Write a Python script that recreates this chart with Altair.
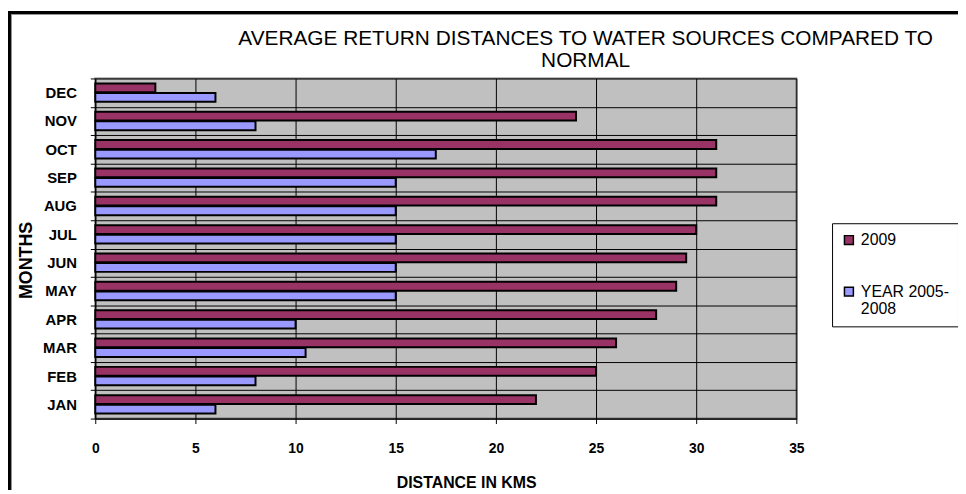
import altair as alt
import pandas as pd

months = ["JAN", "FEB", "MAR", "APR", "MAY", "JUN", "JUL", "AUG", "SEP", "OCT", "NOV", "DEC"]
km_2009 = [22, 25, 26, 28, 29, 29.5, 30, 31, 31, 31, 24, 3]
km_normal = [6, 8, 10.5, 10, 15, 15, 15, 15, 15, 17, 8, 6]
series = ["2009", "YEAR 2005-2008"]
colors = ["#993366", "#9999FF"]
x_ticks = [0, 5, 10, 15, 20, 25, 30, 35]

rows = []
for m, a, b in zip(months, km_2009, km_normal):
    rows.append({"month": m, "series": series[0], "km": a})
    rows.append({"month": m, "series": series[1], "km": b})
df = pd.DataFrame(rows)

FONT = "Liberation Sans"
W, H = 707, 343
PADL, PADT, PADR, PADB = 88, 69, 163, 72

bars = alt.Chart(df).mark_bar(stroke="black", strokeWidth=2).encode(
    x=alt.X(
        "km:Q",
        scale=alt.Scale(domain=[0, 35], nice=False),
        axis=alt.Axis(
            values=x_ticks, format="d", title="DISTANCE IN KMS",
            grid=True, gridColor="black", gridWidth=1, gridOpacity=1,
            domainColor="black", tickColor="black", tickSize=5,
            labelFont=FONT, labelFontSize=14, labelFontWeight="bold", labelColor="black",
            labelPadding=18, labelFlush=False,
            titleFont=FONT, titleFontSize=16, titleFontWeight="bold", titleColor="black",
            titleX=374, titleY=65, titleBaseline="middle", titleAlign="center",
        ),
    ),
    y=alt.Y(
        "month:N",
        sort=months[::-1],
        scale=alt.Scale(paddingInner=0, paddingOuter=0),
        axis=alt.Axis(
            title="MONTHS", tickBand="extent",
            grid=True, gridColor="black", gridWidth=1, gridOpacity=1,
            domainColor="black", tickColor="black", tickSize=5,
            labelFont=FONT, labelFontSize=15, labelFontWeight="bold", labelColor="black",
            labelPadding=14,
            titleFont=FONT, titleFontSize=18, titleFontWeight="bold", titleColor="black",
            titleAngle=270, titleX=-69, titleY=183, titleAlign="center", titleBaseline="middle",
        ),
    ),
    yOffset=alt.YOffset(
        "series:N", sort=series,
        scale=alt.Scale(paddingInner=0.08, paddingOuter=0.52),
    ),
    color=alt.Color(
        "series:N",
        scale=alt.Scale(domain=series, range=colors),
        legend=alt.Legend(
            title=None, orient="none", legendX=743, legendY=146, direction="vertical",
            fillColor="white", strokeColor="black", padding=9,
            symbolType="square", symbolSize=81, symbolStrokeColor="black", symbolStrokeWidth=1.5,
            labelFont=FONT, labelFontSize=16, labelColor="black", labelOffset=4,
            rowPadding=36,
            labelExpr="datum.label == 'YEAR 2005-2008' ? ['YEAR 2005-', '2008'] : datum.label",
        ),
    ),
)

one = alt.Data(values=[{}])
border_top = alt.Chart(one).mark_rule(color="black", strokeWidth=3).encode(
    x=alt.value(-PADL), x2=alt.value(W + PADR), y=alt.value(-PADT + 2.5)
)
border_left = alt.Chart(one).mark_rule(color="black", strokeWidth=3).encode(
    x=alt.value(-PADL + 1.5), y=alt.value(-PADT + 1), y2=alt.value(H + PADB)
)
inner_top = alt.Chart(one).mark_rule(color="#909090", strokeWidth=1).encode(
    x=alt.value(-PADL + 3), x2=alt.value(W + PADR), y=alt.value(-PADT + 4.5)
)
inner_left = alt.Chart(one).mark_rule(color="#909090", strokeWidth=1).encode(
    x=alt.value(-PADL + 3.5), y=alt.value(-PADT + 4), y2=alt.value(H + PADB)
)

chart = alt.layer(bars, border_top, border_left, inner_top, inner_left).properties(
    width=W, height=H,
    padding={"left": PADL, "top": PADT, "right": PADR, "bottom": PADB},
    autosize=alt.AutoSizeParams(type="none"),
    background="white",
    title=alt.TitleParams(
        ["AVERAGE RETURN DISTANCES TO WATER SOURCES COMPARED TO", "NORMAL"],
        anchor="middle", frame="group", font=FONT, fontSize=21, fontWeight="normal",
        color="black", dx=141, dy=70, offset=8, lineHeight=22,
    ),
).configure_view(stroke="#808080", strokeWidth=2, fill="#C0C0C0")

chart.save("out.html", embed_options={"renderer": "svg", "actions": False})
